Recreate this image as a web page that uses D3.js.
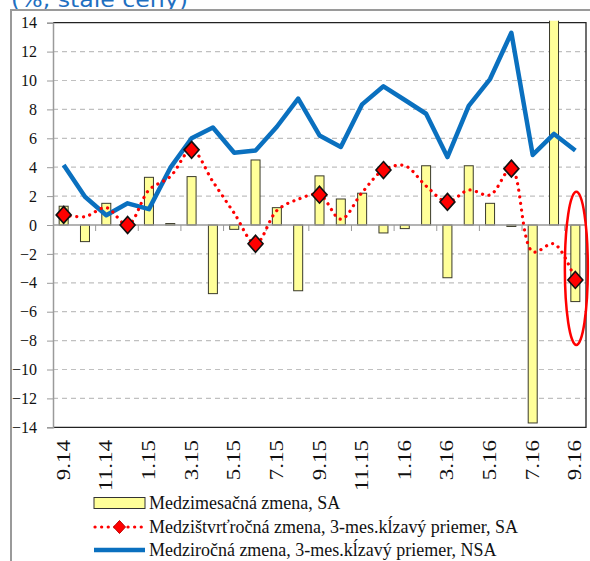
<!DOCTYPE html>
<html><head><meta charset="utf-8">
<script src="https://cdn.jsdelivr.net/npm/d3@7"></script>
<style>
html,body{margin:0;padding:0;background:#fff;}
svg{display:block;}
</style></head>
<body>
<svg id="c" width="590" height="561"></svg>
<script>
const months = ["9.14","10.14","11.14","12.14","1.15","2.15","3.15","4.15","5.15","6.15","7.15","8.15","9.15","10.15","11.15","12.15","1.16","2.16","3.16","4.16","5.16","6.16","7.16","8.16","9.16"];
const momSA = [1.3,-1.15,1.5,0.2,3.3,0.1,3.35,-4.75,-0.3,4.5,1.2,-4.55,3.4,1.8,2.2,-0.55,-0.25,4.1,-3.65,4.1,1.5,-0.1,-13.7,16,-5.3];
const qoqSA = [0.7,0.58,1.2,0.0,2.42,3.35,5.2,3.0,0.82,-1.3,1.0,1.78,2.1,0.4,2.25,3.8,4.1,2.7,1.6,2.42,2.08,3.9,-1.85,-1.3,-3.8];
const yoyNSA = [4.15,1.95,0.68,1.5,1.1,3.95,6.0,6.75,5.0,5.15,6.8,8.75,6.2,5.4,8.35,9.6,8.65,7.7,4.7,8.25,10.1,13.3,4.85,6.3,5.15];
const quarterMonths = ["9.14","12.14","3.15","6.15","9.15","12.15","3.16","6.16","9.16"];
const tickLabels = ["9.14","11.14","1.15","3.15","5.15","7.15","9.15","11.15","1.16","3.16","5.16","7.16","9.16"];
const yTicks = [-14,-12,-10,-8,-6,-4,-2,0,2,4,6,8,10,12,14];
const legendLabels = ["Medzimesačná zmena, SA","Medzištvrťročná zmena, 3-mes.kĺzavý priemer, SA","Medziročná zmena, 3-mes.kĺzavý priemer, NSA"];
const titleText = "(%, stále ceny)";

const SERIF = "Liberation Serif";
const svg = d3.select("#c");
const L = 53, R = 586, T = 22.7, B = 427.3;
const x = d3.scaleBand().domain(months).range([L, R]).padding(0);
const y = d3.scaleLinear().domain([-14, 14]).range([B, T]);
const cx = m => x(m) + x.bandwidth() / 2;

// title (cut at top as in the reference)
svg.append("text").attr("x", 11).attr("y", 7)
  .style("font-family", "DejaVu Sans").style("font-size", "22px")
  .attr("fill", "#1f70c1").attr("textLength", 177).attr("lengthAdjust","spacingAndGlyphs").text(titleText);

// outer frame
svg.append("rect").attr("x", 11).attr("y", 10).attr("width", 700).attr("height", 700)
  .attr("fill", "none").attr("stroke", "#9a9a9a").attr("stroke-width", 2);

// grid
svg.append("g").selectAll("line").data(yTicks.filter(v => v !== 0 && Math.abs(v) !== 14)).join("line")
  .attr("x1", L).attr("x2", R).attr("y1", d => y(d)).attr("y2", d => y(d))
  .attr("stroke", "#c0c0c0").attr("stroke-width", 1.2).attr("stroke-dasharray", "5,4");

// borders top/right/bottom
svg.append("path").attr("d", `M${L},${T}H${R}V${B}H${L}`).attr("fill", "none")
  .attr("stroke", "#222").attr("stroke-width", 1.3);

// y axis
const yAxis = d3.axisLeft(y).tickValues(yTicks).tickSize(6).tickPadding(10).tickFormat(d3.format("d"));
const gy = svg.append("g").attr("transform", `translate(${L},0)`).call(yAxis);
gy.attr("font-family", null).attr("font-size", null);
gy.select(".domain").attr("stroke", "#9a9a9a").attr("stroke-width", 1.5);
gy.selectAll(".tick line").attr("stroke", "#9a9a9a");
gy.selectAll(".tick text").style("font-family", SERIF).style("font-size", "16px").attr("fill", "#111");

// clip
svg.append("clipPath").attr("id", "clip").append("rect")
  .attr("x", L - 20).attr("y", T - 2).attr("width", R - L + 40).attr("height", B - T + 4);

// bars
const bw = 9;
svg.append("g").attr("clip-path", "url(#clip)").selectAll("rect").data(momSA).join("rect")
  .attr("x", (d, i) => cx(months[i]) - bw / 2)
  .attr("y", d => Math.min(y(d), y(0)))
  .attr("width", bw)
  .attr("height", d => Math.abs(y(d) - y(0)))
  .attr("fill", "#ffff99").attr("stroke", "#3a3a2a").attr("stroke-width", 1);

// x axis at zero
const xAxisTicks = months.filter((m, i) => i % 2 === 0 && i > 0);
svg.append("line").attr("x1", L).attr("x2", R).attr("y1", y(0)).attr("y2", y(0))
  .attr("stroke", "#9a9a9a").attr("stroke-width", 1.5);
svg.append("g").selectAll("line").data(xAxisTicks).join("line")
  .attr("x1", d => x(d)).attr("x2", d => x(d)).attr("y1", y(0)).attr("y2", y(0) + 6)
  .attr("stroke", "#9a9a9a").attr("stroke-width", 1);

// x labels (rotated)
svg.append("g").selectAll("text").data(tickLabels).join("text")
  .attr("transform", d => `translate(${cx(d) + 6},440) rotate(-90) scale(1.28,1)`)
  .attr("text-anchor", "end").style("font-family", SERIF).style("font-size", "18px").attr("fill", "#111")
  .text(d => d);

// blue line
const line = d3.line().x((d, i) => cx(months[i])).y(d => y(d));
svg.append("path").datum(yoyNSA).attr("d", line).attr("fill", "none")
  .attr("stroke", "#0a70bf").attr("stroke-width", 4.5).attr("stroke-linejoin", "round");

// red dotted smooth line
const sline = d3.line().x((d, i) => cx(months[i])).y(d => y(d)).curve(d3.curveCatmullRom.alpha(0.5));
svg.append("path").datum(qoqSA).attr("d", sline).attr("fill", "none")
  .attr("stroke", "#ff0000").attr("stroke-width", 3.2).attr("stroke-linecap", "round")
  .attr("stroke-dasharray", "0.1,6.5");

// diamonds
const diamond = (px, py, w, h) => `M${px},${py - h}L${px + w},${py}L${px},${py + h}L${px - w},${py}Z`;
svg.append("g").selectAll("path").data(quarterMonths).join("path")
  .attr("d", m => diamond(cx(m), y(qoqSA[months.indexOf(m)]), 7.5, 8.5))
  .attr("fill", "#ff0000").attr("stroke", "#111").attr("stroke-width", 1.6);

// red ellipse annotation around last value
const last = months[months.length - 1];
svg.append("ellipse").attr("cx", cx(last) + 1).attr("cy", y(-3))
  .attr("rx", 11.5).attr("ry", y(-3) - y(2.3))
  .attr("fill", "none").attr("stroke", "#ff0000").attr("stroke-width", 2.5);

// legend
const lg = svg.append("g");
const lx0 = 94, lx1 = 145, tx = 149, ly = [503, 527, 550];
lg.append("rect").attr("x", lx0).attr("y", ly[0] - 5.5).attr("width", lx1 - lx0).attr("height", 11)
  .attr("fill", "#ffff99").attr("stroke", "#333").attr("stroke-width", 1);
lg.append("line").attr("x1", lx0 + 1).attr("x2", lx1).attr("y1", ly[1]).attr("y2", ly[1])
  .attr("stroke", "#ff0000").attr("stroke-width", 3.2).attr("stroke-linecap", "round").attr("stroke-dasharray", "0.1,6.5");
lg.append("path").attr("d", diamond((lx0 + lx1) / 2, ly[1], 6, 6.5)).attr("fill", "#ff0000").attr("stroke", "#b00").attr("stroke-width", 1);
lg.append("line").attr("x1", lx0).attr("x2", lx1).attr("y1", ly[2]).attr("y2", ly[2])
  .attr("stroke", "#0a70bf").attr("stroke-width", 4.5);
lg.selectAll("text.lt").data(legendLabels).join("text").attr("class", "lt")
  .attr("transform", (d, i) => `translate(${tx},${ly[i] + 6}) scale(1,1.1)`)
  .style("font-family", SERIF).style("font-size", "18px").attr("fill", "#111").text(d => d);
</script>
</body></html>
